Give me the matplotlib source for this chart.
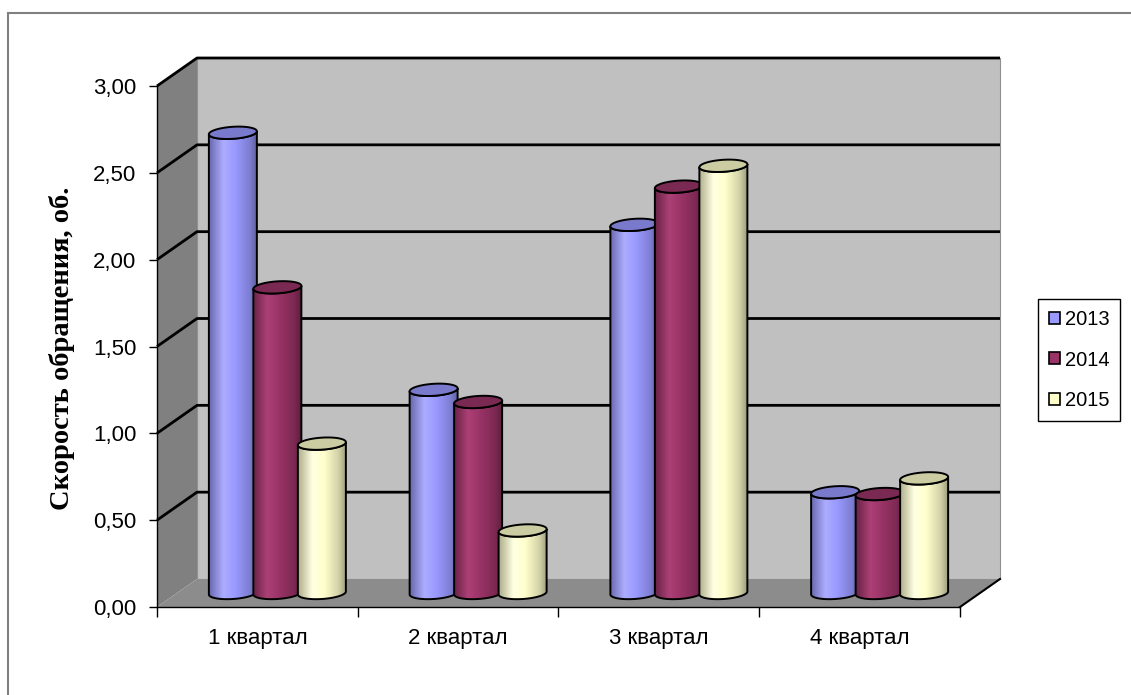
import matplotlib
matplotlib.use("Agg")
import matplotlib.pyplot as plt
import numpy as np
from matplotlib.patches import Polygon, Patch, Rectangle
from matplotlib.colors import LinearSegmentedColormap, to_rgb

# quarterly turnover rate, by year
quarters = ["1 квартал", "2 квартал", "3 квартал", "4 квартал"]
years = ["2013", "2014", "2015"]
v2013 = [2.65, 1.17, 2.12, 0.58]
v2014 = [1.76, 1.10, 2.34, 0.57]
v2015 = [0.86, 0.36, 2.46, 0.66]
colors = ["#9999FF", "#993366", "#FFFFCC"]
yticks = [0.0, 0.5, 1.0, 1.5, 2.0, 2.5, 3.0]

W, H = 1131, 695
fig = plt.figure(figsize=(W / 100, H / 100), dpi=100)
# front plane of the 3-D box: x 157..960 px, y 86..607 px
L, R, T, B = 157, 960, 86, 607
ax = fig.add_axes([L / W, 1 - B / H, (R - L) / W, (B - T) / H])
ax.set_xlim(0, 4)
ax.set_ylim(0, 3)
ax.patch.set_visible(False)

# depth offset of the back wall, in data units
DX = 40 / (R - L) * 4
DY = 28 / (B - T) * 3
YMAX = 3.0

# walls and floor
back = Polygon([(DX, DY), (4 + DX, DY), (4 + DX, YMAX + DY), (DX, YMAX + DY)],
               closed=True, facecolor="#C0C0C0", edgecolor="#909090", lw=0.8, zorder=0.5, clip_on=False)
left = Polygon([(0, 0), (DX, DY), (DX, YMAX + DY), (0, YMAX)],
               closed=True, facecolor="#808080", edgecolor="none", zorder=0.6, clip_on=False)
floor = Polygon([(0, 0), (4, 0), (4 + DX, DY), (DX, DY)],
                closed=True, facecolor="#8C8C8C", edgecolor="none", zorder=0.6, clip_on=False)
for p in (back, left, floor):
    ax.add_patch(p)
ax.plot([4, 4 + DX], [0, DY], color="black", lw=1.5, zorder=0.9, clip_on=False)

# gridlines on back wall + left wall
for yv in yticks[1:]:
    ax.plot([0, DX, 4 + DX], [yv, yv + DY, yv + DY], color="black", lw=2, zorder=0.8,
            clip_on=False, solid_capstyle="butt")


def shade_cmap(base):
    c = np.array(to_rgb(base))
    nodes = [(0.0, 0.68), (0.3, 1.06), (0.55, 1.0), (0.85, 0.82), (1.0, 0.62)]
    cols = [(pos, tuple(np.clip(c * f + (0.04 if f > 1 else 0), 0, 1))) for pos, f in nodes]
    return LinearSegmentedColormap.from_list("cyl", cols)


CW = 48 / (R - L) * 4 / 2      # cylinder half-width
EB = 6 / (B - T) * 3           # ellipse half-height
SPACING = 44.5 / (R - L) * 4
SHEAR = 0.072
t_lo = np.linspace(np.pi, 2 * np.pi, 60)
t_all = np.linspace(0, 2 * np.pi, 120)
grad = np.linspace(0, 1, 256)[None, :]

series = [v2013, v2014, v2015]
z = 2
for qi in range(len(quarters)):
    for si, vals in enumerate(series):
        val = vals[qi]
        cx = qi + 0.5 + DX / 2 + (si - 1) * SPACING
        base = DY / 2
        top = base + val
        c = colors[si]

        # body outline: left side, bottom front arc, right side, top front arc back
        bx = cx + CW * np.cos(t_lo)
        by = base + EB * np.sin(t_lo) + SHEAR * (bx - cx)
        tx = bx[::-1]
        ty = top + EB * np.sin(t_lo)[::-1] + SHEAR * (tx - cx)
        body_pts = np.column_stack([np.concatenate([bx, tx]), np.concatenate([by, ty])])
        body = Polygon(body_pts, closed=True, facecolor="none", edgecolor="black",
                       lw=1.4, zorder=z + 0.2)
        ax.add_patch(body)
        img = ax.imshow(grad, cmap=shade_cmap(c), aspect="auto", interpolation="bilinear",
                        extent=[cx - CW, cx + CW, base - 2 * EB, top + 2 * EB],
                        origin="lower", zorder=z)
        img.set_clip_path(body)

        ex = cx + CW * np.cos(t_all)
        ey = top + EB * np.sin(t_all) + SHEAR * (ex - cx)
        tc = np.clip(np.array(to_rgb(c)) * 0.8, 0, 1)
        ax.add_patch(Polygon(np.column_stack([ex, ey]), closed=True, facecolor=tc,
                             edgecolor="black", lw=1.4, zorder=z + 0.3))
        z += 1

ax.set_xlim(0, 4)
ax.set_ylim(0, 3)

# axes, ticks and labels
for s in ("top", "right"):
    ax.spines[s].set_visible(False)
for s in ("left", "bottom"):
    ax.spines[s].set_color("black")
    ax.spines[s].set_linewidth(1.0)
    ax.spines[s].set_zorder(1)
ax.set_yticks(yticks)
ax.set_yticklabels([f"{v:.2f}".replace(".", ",") for v in yticks],
                   fontfamily="Liberation Sans", fontsize=16)
ax.tick_params(axis="y", direction="out", length=6, width=1, pad=9)
ax.set_xticks([0, 1, 2, 3, 4])
ax.set_xticklabels([])
ax.set_xticks([0.5, 1.5, 2.5, 3.5], minor=True)
ax.set_xticklabels(quarters, minor=True, fontfamily="Liberation Sans", fontsize=16)
ax.tick_params(axis="x", which="major", direction="out", length=7, width=1)
ax.tick_params(axis="x", which="minor", length=0, pad=15)

fig.text(62 / W, 1 - 348 / H, "Скорость обращения, об.", rotation=90, ha="center", va="center",
         fontfamily="Liberation Serif", fontweight="bold", fontsize=20.5)

handles = [Patch(facecolor=c, edgecolor="black", lw=1.2) for c in colors]
leg = fig.legend(handles, years, loc="center", bbox_to_anchor=(1079 / W, 1 - 360 / H),
                 frameon=True, fancybox=False, edgecolor="black", framealpha=1,
                 prop={"family": "Liberation Sans", "size": 14.5},
                 handlelength=0.55, handleheight=0.55, handletextpad=0.25,
                 labelspacing=1.08, borderpad=0.55, borderaxespad=0)
leg.get_frame().set_linewidth(1.0)

# outer chart frame
fig.patches.append(Rectangle((8 / W, -0.1), 1.2, 1 - 13 / H + 0.1, transform=fig.transFigure,
                             fill=False, edgecolor="#808080", lw=1.5))

fig.savefig("out.png", dpi=100)
